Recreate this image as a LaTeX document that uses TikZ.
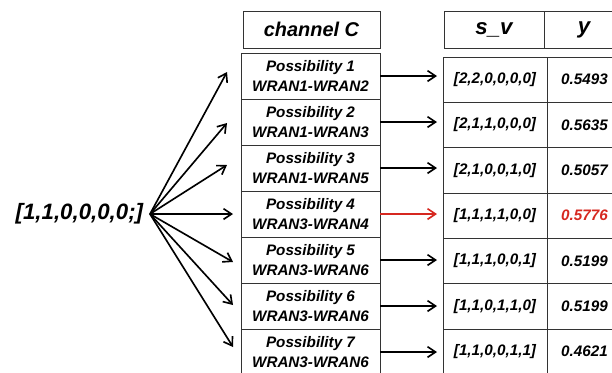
\documentclass[tikz,border=0pt]{standalone}
\usepackage{fontspec}
\setmainfont{Liberation Sans}
\usetikzlibrary{positioning,arrows.meta}
\definecolor{bestred}{RGB}{214,40,32}

\begin{document}
\begin{tikzpicture}[
    node distance = 0pt,
    cell/.style = {draw=black!80, line width=0.8pt, outer sep=0pt, inner sep=0pt, align=center,
                   font=\fontsize{13}{17}\selectfont\bfseries\itshape},
    head/.style = {cell, minimum height=1.11cm, font=\fontsize{17}{20}\selectfont\bfseries\itshape},
    chan/.style = {cell, minimum width=4.17cm, minimum height=1.38cm},
    sv/.style = {cell, minimum width=3.12cm, minimum height=1.36cm},
    yv/.style = {cell, minimum width=2.25cm, minimum height=1.36cm},
    arr/.style = {-{Straight Barb[length=2.4mm,width=3.2mm]}, line width=1.4pt}
]

\useasboundingbox (0,0) rectangle (18.36,-11.16);

\node[head, minimum width=4.11cm] (headC) at (9.345,-0.885) {channel C};
\node[head, minimum width=3.0cm, font=\fontsize{19}{22}\selectfont\bfseries\itshape] (headSv) at (14.82,-0.885) {s\_v};
\node[head, minimum width=2.4cm, font=\fontsize{19}{22}\selectfont\bfseries\itshape, right=of headSv] (headY) {y};

\node[anchor=east, inner sep=0.2cm, font=\fontsize{19}{22}\selectfont\bfseries\itshape] (init) at (4.5,-6.42) {[1,1,0,0,0,0;]};

\node[chan] (poss1) at (9.315,-2.28) {Possibility 1\\WRAN1-WRAN2};
\node[chan, below=of poss1] (poss2) {Possibility 2\\WRAN1-WRAN3};
\node[chan, below=of poss2] (poss3) {Possibility 3\\WRAN1-WRAN5};
\node[chan, below=of poss3] (poss4) {Possibility 4\\WRAN3-WRAN4};
\node[chan, below=of poss4] (poss5) {Possibility 5\\WRAN3-WRAN6};
\node[chan, below=of poss5] (poss6) {Possibility 6\\WRAN3-WRAN6};
\node[chan, below=of poss6] (poss7) {Possibility 7\\WRAN3-WRAN6};

\coordinate (tip1) at (6.81,-2.16);
\coordinate (tip2) at (6.81,-3.69);
\coordinate (tip3) at (6.81,-4.95);
\coordinate (tip4) at (6.99,-6.42);
\coordinate (tip5) at (6.99,-7.86);
\coordinate (tip6) at (6.99,-9.15);
\coordinate (tip7) at (6.99,-10.41);

\node[sv] (sv1) at (14.85,-2.39) {[2,2,0,0,0,0]};
\node[sv, below=of sv1] (sv2) {[2,1,1,0,0,0]};
\node[sv, below=of sv2] (sv3) {[2,1,0,0,1,0]};
\node[sv, below=of sv3] (sv4) {[1,1,1,1,0,0]};
\node[sv, below=of sv4] (sv5) {[1,1,1,0,0,1]};
\node[sv, below=of sv5] (sv6) {[1,1,0,1,1,0]};
\node[sv, below=of sv6] (sv7) {[1,1,0,0,1,1]};

\node[yv, right=of sv1] (y1) {0.5493};
\node[yv, right=of sv2] (y2) {0.5635};
\node[yv, right=of sv3] (y3) {0.5057};
\node[yv, right=of sv4, text=bestred] (y4) {0.5776};
\node[yv, right=of sv5] (y5) {0.5199};
\node[yv, right=of sv6] (y6) {0.5199};
\node[yv, right=of sv7] (y7) {0.4621};

\draw[arr] (init.east) -- (tip1);
\draw[arr] (init.east) -- (tip2);
\draw[arr] (init.east) -- (tip3);
\draw[arr] (init.east) -- (tip4);
\draw[arr] (init.east) -- (tip5);
\draw[arr] (init.east) -- (tip6);
\draw[arr] (init.east) -- (tip7);

\draw[arr, shorten >=0.18cm] (poss1.east) -- (poss1.east -| sv1.west);
\draw[arr, shorten >=0.18cm] (poss2.east) -- (poss2.east -| sv2.west);
\draw[arr, shorten >=0.18cm] (poss3.east) -- (poss3.east -| sv3.west);
\draw[arr, shorten >=0.18cm, bestred] (poss4.east) -- (poss4.east -| sv4.west);
\draw[arr, shorten >=0.18cm] (poss5.east) -- (poss5.east -| sv5.west);
\draw[arr, shorten >=0.18cm] (poss6.east) -- (poss6.east -| sv6.west);
\draw[arr, shorten >=0.18cm] (poss7.east) -- (poss7.east -| sv7.west);

\end{tikzpicture}
\end{document}
